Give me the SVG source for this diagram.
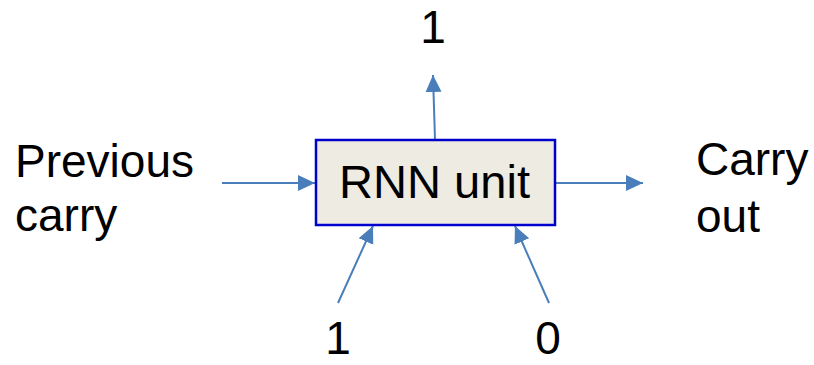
<svg xmlns="http://www.w3.org/2000/svg" width="814" height="365" viewBox="0 0 814 365">
<style>
.t{font-family:"Liberation Sans",Arial,sans-serif;font-size:46px;fill:#000}
.c{stroke:#4A7EBB;stroke-width:2;fill:none}
</style>
<defs>
<marker id="ah" markerUnits="userSpaceOnUse" markerWidth="18" markerHeight="18" viewBox="0 0 18 18" refX="17" refY="9" orient="auto">
<path d="M0,1 L17,9 L0,17 Z" fill="#4A7EBB"/>
</marker>
</defs>
<g id="connectors">
<line class="c" x1="222" y1="183" x2="315" y2="183" marker-end="url(#ah)"/>
<line class="c" x1="549" y1="183" x2="643" y2="183" marker-end="url(#ah)"/>
<line class="c" x1="435" y1="140" x2="433" y2="75" marker-end="url(#ah)"/>
<line class="c" x1="338" y1="303" x2="373" y2="226" marker-end="url(#ah)"/>
<line class="c" x1="549" y1="303" x2="515" y2="226" marker-end="url(#ah)"/>
</g>
<g id="rnn">
<rect x="316" y="140" width="239" height="85" fill="#EEEBE2" stroke="#0000CC" stroke-width="2.5"/>
<text class="t" x="339" y="198" font-size="43" textLength="191" lengthAdjust="spacingAndGlyphs">RNN unit</text>
</g>
<g id="prev">
<text class="t" x="15" y="177">Previous</text>
<text class="t" x="15" y="231">carry</text>
</g>
<g id="carryout">
<text class="t" x="696" y="175">Carry</text>
<text class="t" x="696" y="232">out</text>
</g>
<g id="out1"><text class="t" x="433" y="43" text-anchor="middle">1</text></g>
<g id="in1"><text class="t" x="338" y="354" font-size="44" text-anchor="middle">1</text></g>
<g id="in0"><text class="t" x="548" y="354" font-size="44" text-anchor="middle">0</text></g>
</svg>
